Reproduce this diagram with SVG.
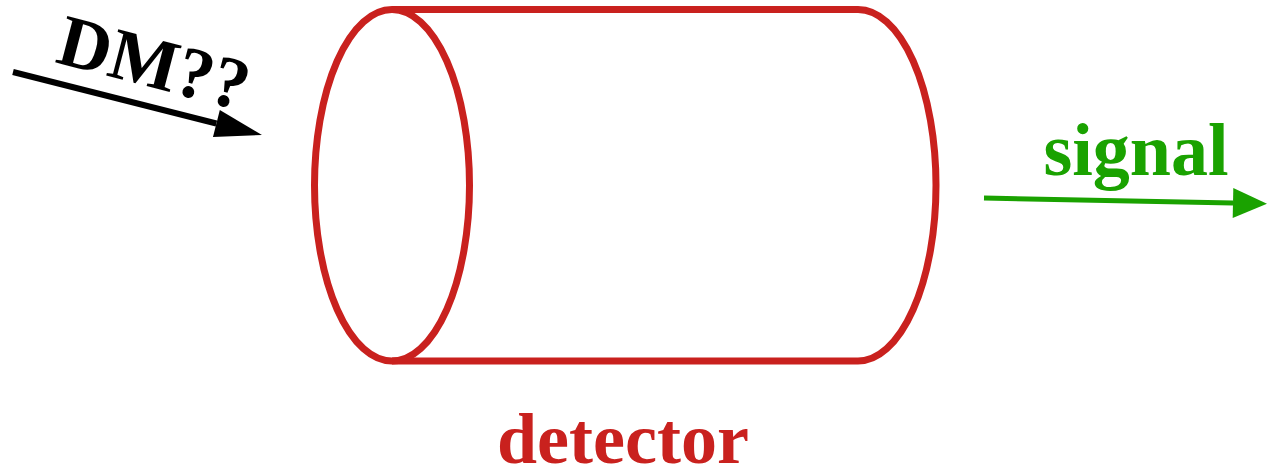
<svg xmlns="http://www.w3.org/2000/svg" width="1267" height="472" viewBox="0 0 1267 472">
<style>
.lbl{font-family:"Liberation Serif","Times New Roman",serif;font-weight:bold}
.red{stroke:#c9211e;stroke-width:7;fill:none}
</style>
<defs>
<marker id="ahBlack" markerUnits="userSpaceOnUse" markerWidth="48" markerHeight="30" refX="0" refY="14" orient="auto" overflow="visible">
<path d="M0,0 L47,14 L0,28 Z" fill="#000"/>
</marker>
<marker id="ahGreen" markerUnits="userSpaceOnUse" markerWidth="36" markerHeight="32" refX="0" refY="15" orient="auto" overflow="visible">
<path d="M0,0 L34,15 L0,30 Z" fill="#1aa200"/>
</marker>
</defs>
<rect width="1267" height="472" fill="#fff"/>
<g id="detector">
<path class="red" d="M392,9.5 H858 A78,175.75 0 0 1 858,361 H392"/>
<ellipse class="red" cx="392" cy="185.25" rx="77.5" ry="175.75"/>
<text class="lbl" x="623" y="463" font-size="72" fill="#c9211e" text-anchor="middle">detector</text>
</g>
<g id="dm">
<text class="lbl" x="0" y="0" font-size="73" fill="#000" transform="translate(54,62) rotate(14.6)">DM??</text>
</g>
<g id="signal">
<text class="lbl" x="1136" y="175" font-size="74" fill="#1aa200" text-anchor="middle">signal</text>
</g>
<g id="connectors">
<line x1="13" y1="72" x2="216.4" y2="123.5" stroke="#000" stroke-width="6" marker-end="url(#ahBlack)"/>
<line x1="984" y1="198" x2="1233" y2="203" stroke="#1aa200" stroke-width="5" marker-end="url(#ahGreen)"/>
</g>
</svg>
